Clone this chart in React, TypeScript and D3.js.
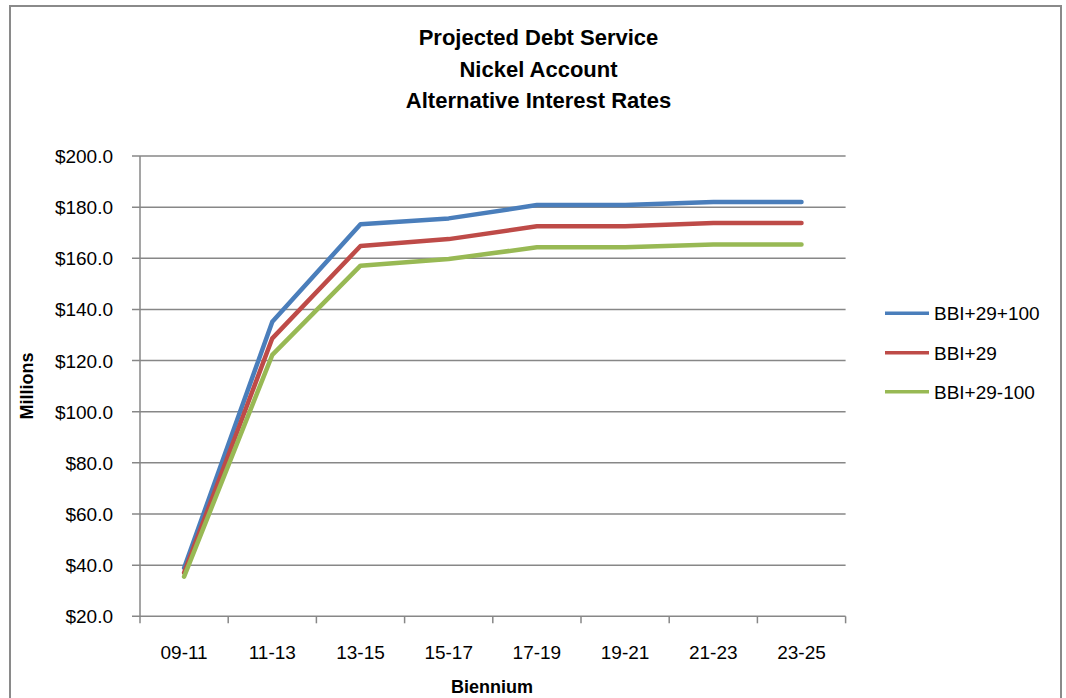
import React from "react";
import * as d3 from "d3";

const categories = ["09-11", "11-13", "13-15", "15-17", "17-19", "19-21", "21-23", "23-25"];
const seriesNames = ["BBI+29+100", "BBI+29", "BBI+29-100"];
const seriesColors = ["#4A7EBB", "#BE4B48", "#98B954"];
const bbiPlus100 = [38.9, 135.2, 173.3, 175.6, 180.8, 180.8, 182.0, 182.0];
const bbi = [37.0, 128.7, 164.8, 167.5, 172.5, 172.5, 173.8, 173.8];
const bbiMinus100 = [35.5, 122.2, 157.1, 159.7, 164.3, 164.3, 165.4, 165.4];
const yTicks = [20, 40, 60, 80, 100, 120, 140, 160, 180, 200];
const titleLines = ["Projected Debt Service", "Nickel Account", "Alternative Interest Rates"];

const W = 1066;
const H = 698;
const plot = { left: 140, right: 845.6, top: 156, bottom: 616.3 };
const FONT = "'Liberation Sans', Arial, sans-serif";
const GRID = "#878787";

export default function App() {
  const x = d3.scaleBand<string>().domain(categories).range([plot.left, plot.right]);
  const y = d3.scaleLinear().domain([20, 200]).range([plot.bottom, plot.top]);
  const allSeries = [bbiPlus100, bbi, bbiMinus100];
  const line = d3
    .line<number>()
    .x((_, i) => (x(categories[i]) as number) + x.bandwidth() / 2)
    .y((d) => y(d));
  const tickXs = d3.range(categories.length + 1).map((i) => plot.left + i * x.step());
  const legendY = [313.3, 352.7, 391.7];

  return (
    <div style={{ position: "absolute", left: 0, top: 0 }}>
      <svg width={W} height={H} style={{ display: "block", background: "#fff" }}>
        <rect x={10} y={6} width={1051} height={720} fill="#fff" stroke="#8a8a8a" strokeWidth={2} />
        {titleLines.map((t, i) => (
          <text
            key={t}
            x={538.5}
            y={45 + i * 31.5}
            textAnchor="middle"
            fontFamily={FONT}
            fontWeight="bold"
            fontSize={22}
            fill="#000"
          >
            {t}
          </text>
        ))}
        {/* gridlines */}
        {yTicks.map((v) => (
          <line key={"g" + v} x1={plot.left - 8} x2={plot.right} y1={y(v)} y2={y(v)} stroke={GRID} strokeWidth={1.5} />
        ))}
        {/* y axis */}
        <line x1={plot.left} x2={plot.left} y1={plot.top} y2={plot.bottom} stroke={GRID} strokeWidth={1.5} />
        {yTicks.map((v) => (
          <text
            key={"yl" + v}
            x={113}
            y={y(v) + 7}
            textAnchor="end"
            fontFamily={FONT}
            fontSize={19}
            fill="#000"
          >
            {"$" + v.toFixed(1)}
          </text>
        ))}
        {/* x axis ticks */}
        {tickXs.map((tx, i) => (
          <line key={"xt" + i} x1={tx} x2={tx} y1={plot.bottom} y2={plot.bottom + 7} stroke={GRID} strokeWidth={1.5} />
        ))}
        {categories.map((c) => (
          <text
            key={"xl" + c}
            x={(x(c) as number) + x.bandwidth() / 2}
            y={659}
            textAnchor="middle"
            fontFamily={FONT}
            fontSize={19}
            fill="#000"
          >
            {c}
          </text>
        ))}
        {/* axis titles */}
        <text x={492} y={693} textAnchor="middle" fontFamily={FONT} fontWeight="bold" fontSize={18} fill="#000">
          Biennium
        </text>
        <text
          transform="translate(33,386) rotate(-90)"
          textAnchor="middle"
          fontFamily={FONT}
          fontWeight="bold"
          fontSize={18}
          fill="#000"
        >
          Millions
        </text>
        {/* series */}
        {allSeries.map((s, i) => (
          <path
            key={"s" + i}
            d={line(s) as string}
            fill="none"
            stroke={seriesColors[i]}
            strokeWidth={4.5}
            strokeLinejoin="round"
            strokeLinecap="round"
          />
        ))}
        {/* legend */}
        {seriesNames.map((n, i) => (
          <g key={"lg" + n}>
            <line x1={885} x2={929} y1={legendY[i]} y2={legendY[i]} stroke={seriesColors[i]} strokeWidth={3.5} />
            <text x={934} y={legendY[i] + 7} fontFamily={FONT} fontSize={19} fill="#000">
              {n}
            </text>
          </g>
        ))}
      </svg>
    </div>
  );
}
